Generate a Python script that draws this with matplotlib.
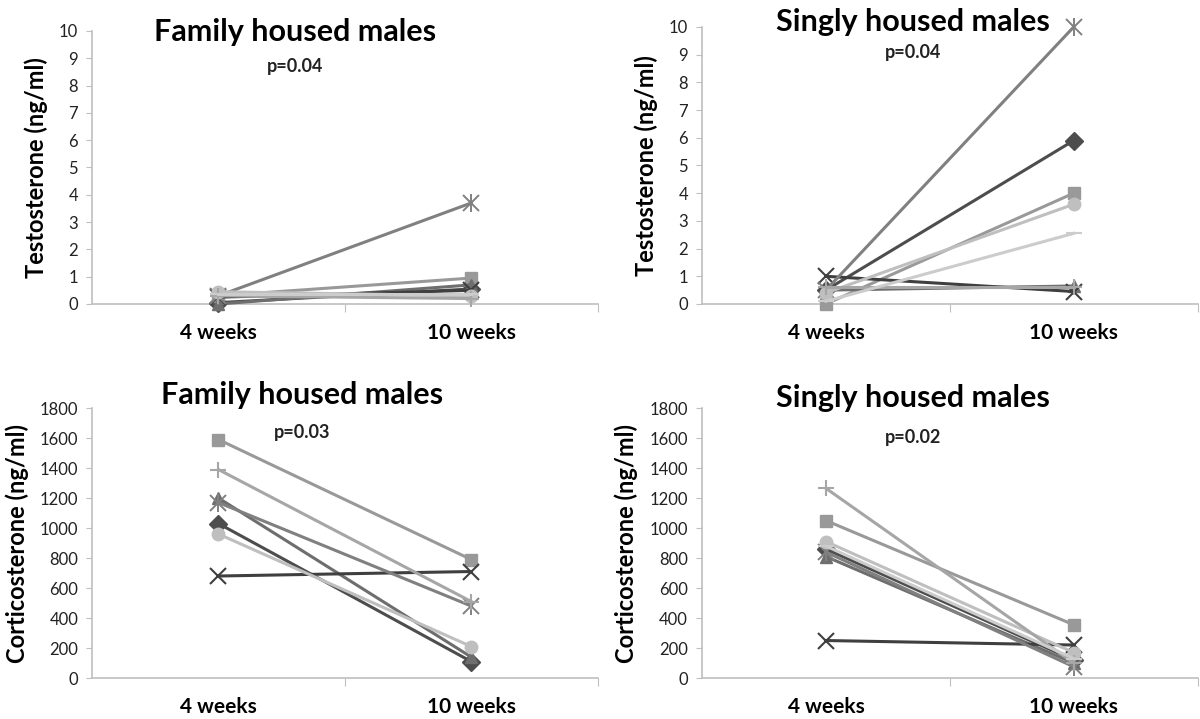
import numpy as np
import matplotlib.pyplot as plt

plt.rcParams['font.family'] = ['Lato', 'DejaVu Sans']

# categories on the x axis
weeks = ['4 weeks', '10 weeks']

# one entry per animal: marker, colour
styles = [
    ('D', '#4d4d4d'),   # diamond
    ('s', '#999999'),   # square
    ('^', '#6e6e6e'),   # triangle
    ('x', '#3f3f3f'),   # x
    ('star', '#808080'),  # asterisk (x with a vertical bar)
    ('o', '#bfbfbf'),   # circle
    ('+', '#a6a6a6'),   # plus
    ('_', '#cccccc'),   # dash
]

# testosterone (ng/ml), family housed: [4 weeks, 10 weeks]
testo_family = [
    [0.05, 0.55],
    [0.30, 0.95],
    [0.00, 0.70],
    [0.25, 0.50],
    [0.30, 3.70],
    [0.45, 0.30],
    [0.30, 0.20],
    [0.35, 0.35],
]

# testosterone (ng/ml), singly housed
testo_single = [
    [0.50, 5.90],
    [0.00, 4.00],
    [0.50, 0.65],
    [1.00, 0.45],
    [0.50, 10.0],
    [0.40, 3.60],
    [0.60, 0.60],
    [0.10, 2.55],
]

# corticosterone (ng/ml), family housed
cort_family = [
    [1030, 110],
    [1590, 790],
    [1200, 140],
    [680, 710],
    [1170, 480],
    [960, 210],
    [1390, 510],
]

# corticosterone (ng/ml), singly housed
cort_single = [
    [860, 120],
    [1050, 355],
    [810, 100],
    [250, 220],
    [840, 75],
    [910, 170],
    [1265, 100],
    [880, 130],
]

panels = [
    # data, title, p text, y label, ymax, ystep, axes rect, title x, title y, p y
    (testo_family, 'Family housed males', 'p=0.04', 'Testosterone (ng/ml)', 10, 1,
     [0.0767, 0.5772, 0.4213, 0.3797], 0.246, 0.955, 0.907),
    (testo_single, 'Singly housed males', 'p=0.04', 'Testosterone (ng/ml)', 10, 1,
     [0.585, 0.5772, 0.413, 0.3853], 0.761, 0.969, 0.927),
    (cort_family, 'Family housed males', 'p=0.03', 'Corticosterone (ng/ml)', 1800, 200,
     [0.0767, 0.0570, 0.4213, 0.3755], 0.252, 0.451, 0.398),
    (cort_single, 'Singly housed males', 'p=0.02', 'Corticosterone (ng/ml)', 1800, 200,
     [0.585, 0.0570, 0.413, 0.3755], 0.761, 0.447, 0.392),
]

fig = plt.figure(figsize=(12, 7.19), dpi=100)

for data, title, ptxt, ylab, ymax, ystep, rect, tx, ty, py in panels:
    ax = fig.add_axes(rect)
    x = np.arange(len(weeks))
    for vals, (mk, col) in zip(data, styles):
        if mk == 'star':
            ax.plot(x, vals, color=col, lw=2.2, marker='x', ms=12, mew=1.4,
                    clip_on=False, zorder=3)
            ax.plot(x, vals, ls='none', marker='|', ms=13, mew=1.4, color=col,
                    clip_on=False, zorder=3)
            continue
        ms = 12 if mk in ('x', '+', '_') else 9
        mew = 1.5 if mk in ('x', '+', '_') else 1
        ax.plot(x, vals, color=col, lw=2.2, marker=mk, ms=ms, mew=mew,
                mfc=col, mec=col, clip_on=False, zorder=3)
    ax.set_xlim(-0.5, 1.5)
    ax.set_ylim(0, ymax)
    ax.set_yticks(np.arange(0, ymax + ystep, ystep))
    ax.set_xticks([0.5, 1.5])
    ax.set_xticklabels([])
    ax.set_xticks(x, minor=True)
    ax.set_xticklabels(weeks, minor=True, fontweight='bold', fontsize=15)
    ax.tick_params(axis='x', which='minor', length=0, pad=14)
    ax.tick_params(axis='x', which='major', length=6, color='#bfbfbf', direction='out')
    ax.tick_params(axis='y', length=4, color='#bfbfbf', labelsize=12,
                   labelcolor='#222222', pad=6)
    for s in ('top', 'right'):
        ax.spines[s].set_visible(False)
    for s in ('left', 'bottom'):
        ax.spines[s].set_color('#bfbfbf')
        ax.spines[s].set_linewidth(1.2)
    ax.set_ylabel(ylab, fontweight='bold', fontsize=17, labelpad=8)
    fig.text(tx, ty, title, ha='center', va='center', fontweight='bold', fontsize=22)
    fig.text(tx, py, ptxt, ha='center', va='center', fontweight='bold', fontsize=13,
             color='#222222')

fig.savefig('out.png', dpi=100, facecolor='white')
